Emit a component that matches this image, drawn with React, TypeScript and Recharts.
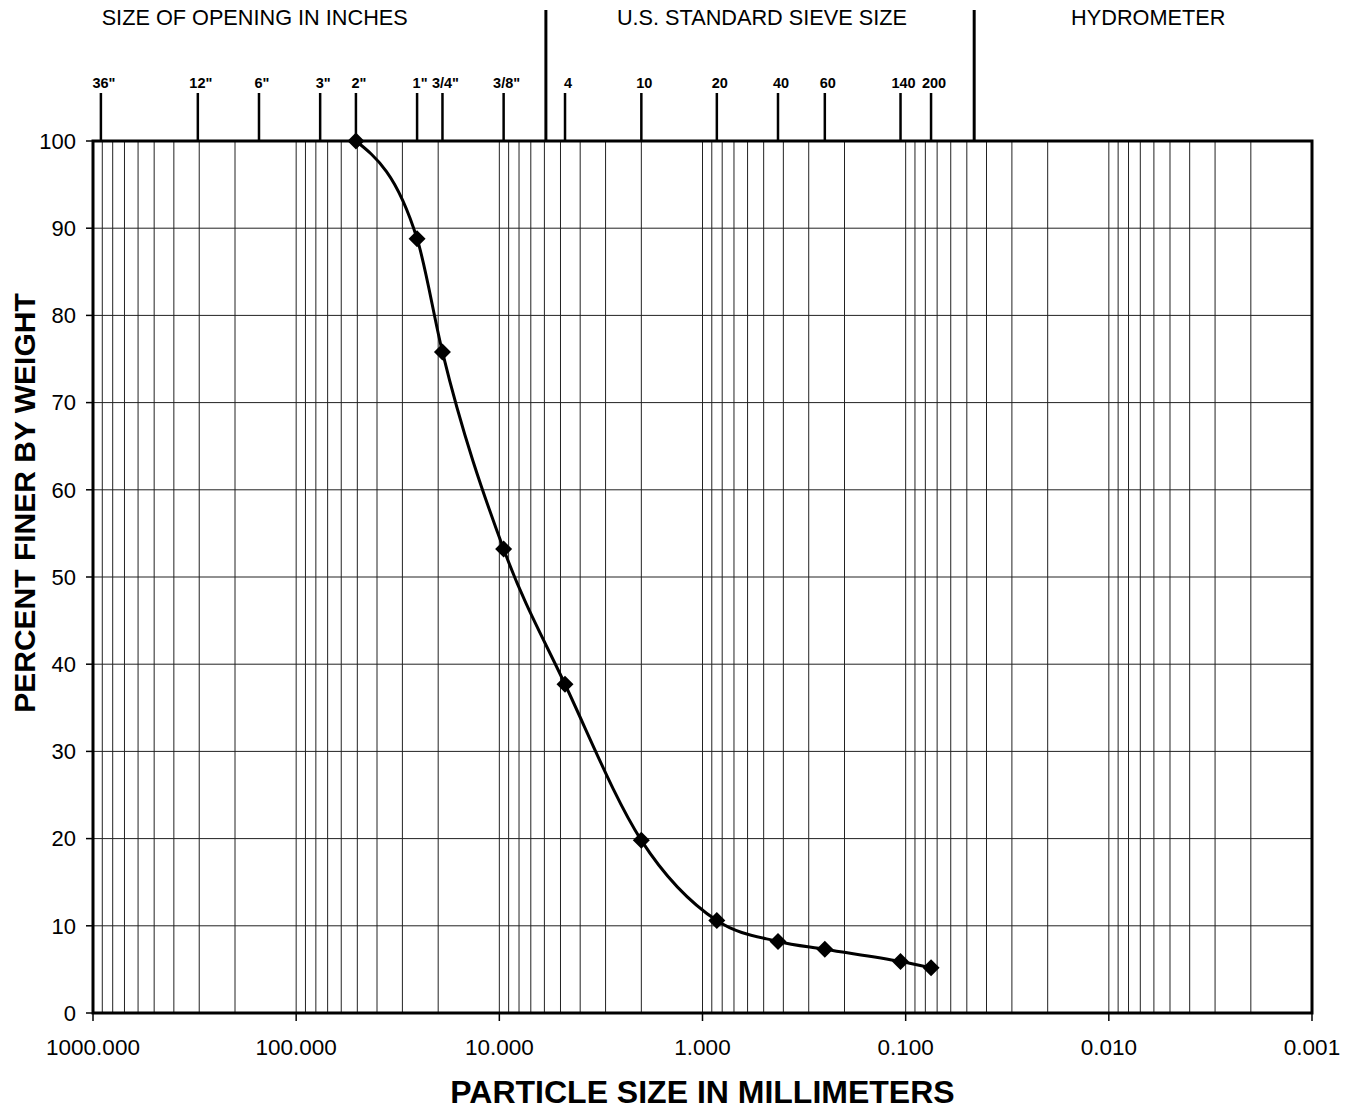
import React from 'react';
import { LineChart, Line, XAxis, YAxis, CartesianGrid, ReferenceArea } from 'recharts';

// Gradation test results: sieve opening (mm) and percent finer by weight
const sieveSizesMm = [50.8, 25.4, 19.05, 9.525, 4.75, 2.0, 0.85, 0.425, 0.25, 0.106, 0.075];
const percentFiner = [100, 88.8, 75.8, 53.2, 37.7, 19.8, 10.6, 8.2, 7.3, 5.9, 5.2];

// Top scale: sieve / opening marks
const topTickSizes = [914.4, 304.8, 152.4, 76.2, 50.8, 25.4, 19.05, 9.525, 4.75, 2.0, 0.85, 0.425, 0.25, 0.106, 0.075];
const topTickLabels = ['36"', '12"', '6"', '3"', '2"', '1"', '3/4"', '3/8"', '4', '10', '20', '40', '60', '140', '200'];

// Section dividers and headers on the top scale
const dividerSizes = [5.9, 0.046];
const sectionCenters = [160, 0.51, 0.0064];
const sectionLabels = ['SIZE OF OPENING IN INCHES', 'U.S. STANDARD SIEVE SIZE', 'HYDROMETER'];

// Bottom log axis
const decades = [1000, 100, 10, 1, 0.1, 0.01, 0.001];
const decadeLabels = ['1000.000', '100.000', '10.000', '1.000', '0.100', '0.010', '0.001'];
const gridMultipliers = [2, 3, 4, 5, 6, 7, 8, 9];

const yTicks = [0, 10, 20, 30, 40, 50, 60, 70, 80, 90, 100];

const data = sieveSizesMm.map((size, i) => ({ size, pct: percentFiner[i] }));

const gridTicks: number[] = [...decades];
decades.slice(1).forEach((d) => gridMultipliers.forEach((m) => gridTicks.push(m * d)));
gridTicks.sort((a, b) => b - a);

const same = (a: number, b: number) => Math.abs(Math.log10(a) - Math.log10(b)) < 1e-6;

const FONT = '"Liberation Sans", Arial, Helvetica, sans-serif';

const BottomTick = (props: any) => {
  const { x, y, payload } = props;
  const i = decades.findIndex((d) => same(d, payload.value));
  if (i < 0) return <g />;
  return (
    <g>
      <line x1={x} x2={x} y1={y} y2={y + 8} stroke="#000" strokeWidth={1.5} />
      <text x={x} y={y + 42} textAnchor="middle" fontSize={22.5} fill="#000" fontFamily={FONT}>
        {decadeLabels[i]}
      </text>
    </g>
  );
};

const TopTick = (props: any) => {
  const { x, y, payload } = props;
  const v = payload.value;
  const si = topTickSizes.findIndex((d) => same(d, v));
  if (si >= 0) {
    return (
      <g>
        <line x1={x} x2={x} y1={y} y2={y - 48} stroke="#000" strokeWidth={2.5} />
        <text x={x + 3} y={y - 53} textAnchor="middle" fontSize={14.5} fontWeight="bold" fill="#000" fontFamily={FONT}>
          {topTickLabels[si]}
        </text>
      </g>
    );
  }
  const di = dividerSizes.findIndex((d) => same(d, v));
  if (di >= 0) {
    return <line x1={x} x2={x} y1={y} y2={y - 131} stroke="#000" strokeWidth={3} />;
  }
  const ci = sectionCenters.findIndex((d) => same(d, v));
  if (ci >= 0) {
    return (
      <text x={x} y={y - 116} textAnchor="middle" fontSize={21.7} fill="#000" fontFamily={FONT}>
        {sectionLabels[ci]}
      </text>
    );
  }
  return <g />;
};

const Diamond = (props: any) => {
  const { cx, cy, index } = props;
  if (cx == null || cy == null) return <g key={index} />;
  const r = 8.5;
  return <path key={index} d={`M${cx},${cy - r}L${cx + r},${cy}L${cx},${cy + r}L${cx - r},${cy}Z`} fill="#000" />;
};

const YLabel = (props: any) => {
  const vb = props.viewBox;
  const x = vb.x + 35;
  const y = vb.y + vb.height / 2 - 74;
  return (
    <text x={x} y={y} transform={`rotate(-90, ${x}, ${y})`} textAnchor="middle" fontSize={30} fontWeight="bold" fill="#000" fontFamily={FONT}>
      PERCENT FINER BY WEIGHT
    </text>
  );
};

const XLabel = (props: any) => {
  const vb = props.viewBox;
  return (
    <text x={vb.x + vb.width / 2} y={vb.y + 90} textAnchor="middle" fontSize={32} fontWeight="bold" fill="#000" fontFamily={FONT}>
      PARTICLE SIZE IN MILLIMETERS
    </text>
  );
};

const topTicks = [...topTickSizes, ...dividerSizes, ...sectionCenters];

export default function App() {
  return (
    <div style={{ width: 1358, height: 1119, margin: -8, fontFamily: FONT }}>
      <LineChart
        width={1358}
        height={1111}
        data={data}
        margin={{ top: 0, right: 46, bottom: 0, left: 0 }}
        style={{ fontFamily: FONT }}
      >
        <CartesianGrid xAxisId="bottom" stroke="#222" strokeWidth={1} />
        <XAxis
          xAxisId="bottom"
          dataKey="size"
          type="number"
          scale="log"
          domain={[0.001, 1000]}
          allowDataOverflow
          reversed
          ticks={gridTicks}
          interval={0}
          tick={<BottomTick />}
          tickSize={0}
          tickMargin={0}
          tickLine={false}
          axisLine={false}
          height={98}
          label={XLabel}
        />
        <XAxis
          xAxisId="top"
          orientation="top"
          dataKey="size"
          type="number"
          scale="log"
          domain={[0.001, 1000]}
          allowDataOverflow
          reversed
          ticks={topTicks}
          interval={0}
          tick={<TopTick />}
          tickSize={0}
          tickMargin={0}
          tickLine={false}
          axisLine={false}
          height={141}
        />
        <YAxis
          type="number"
          domain={[0, 100]}
          ticks={yTicks}
          interval={0}
          width={93}
          tickSize={7}
          tickMargin={10}
          tickLine={{ stroke: '#000', strokeWidth: 1.5 }}
          axisLine={false}
          tick={{ fontSize: 22, fill: '#000', fontFamily: FONT }}
          label={YLabel}
        />
        <ReferenceArea
          xAxisId="bottom"
          x1={1000}
          x2={0.001}
          y1={0}
          y2={100}
          fill="none"
          fillOpacity={0}
          stroke="#000"
          strokeWidth={3}
          ifOverflow="visible"
        />
        <Line
          xAxisId="bottom"
          dataKey="pct"
          type="monotone"
          stroke="#000"
          strokeWidth={3}
          dot={Diamond}
          activeDot={false}
          isAnimationActive={false}
        />
      </LineChart>
    </div>
  );
}
